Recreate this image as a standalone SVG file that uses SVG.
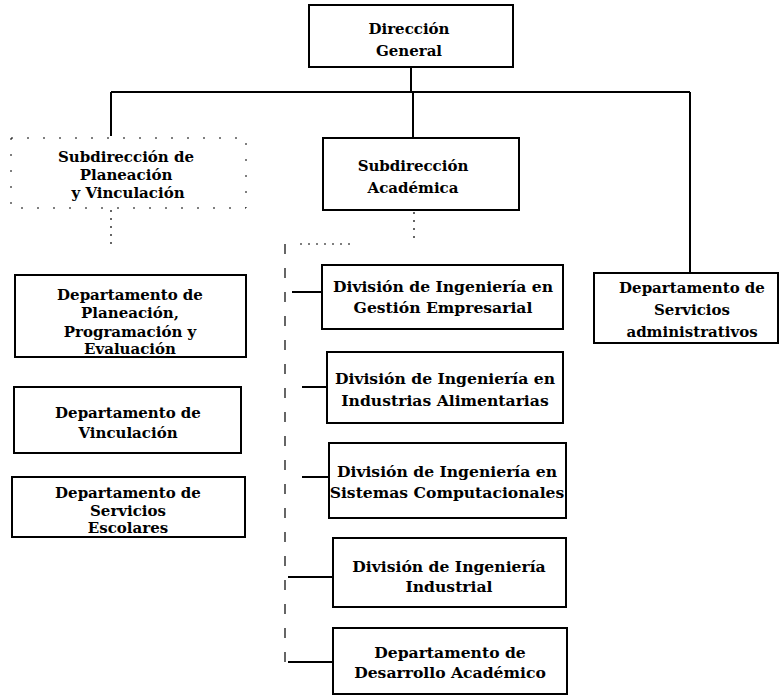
<svg xmlns="http://www.w3.org/2000/svg" width="780" height="697" viewBox="0 0 780 697">
<style>
  .box{fill:#fff;stroke:#000;stroke-width:2}
  .faint{fill:none;stroke:#000;stroke-width:1;stroke-dasharray:2 14}
  .ln{fill:none;stroke:#000;stroke-width:2}
  .dl{fill:none;stroke:#000;stroke-width:1.2;stroke-dasharray:2 6}
  .dv{fill:none;stroke:#000;stroke-width:1.2;stroke-dasharray:10 14}
  text{font-family:"DejaVu Serif","Liberation Serif",serif;font-weight:bold;font-size:15px;text-anchor:middle;fill:#000}
  .w{font-size:15.6px}
</style>
<rect width="780" height="697" fill="#fff"/>
<g id="connectors">
  <line class="ln" x1="411" y1="67" x2="411" y2="92"/>
  <line class="ln" x1="111" y1="92" x2="690" y2="92"/>
  <line class="ln" x1="111" y1="92" x2="111" y2="136"/>
  <line class="ln" x1="413" y1="92" x2="413" y2="138"/>
  <line class="ln" x1="690" y1="92" x2="690" y2="273"/>
  <line class="dl" x1="111" y1="210" x2="111" y2="246"/>
  <line class="dl" x1="414" y1="212" x2="414" y2="244"/>
  <line class="dl" x1="300" y1="244" x2="350" y2="244"/>
  <line class="dv" x1="285" y1="244" x2="285" y2="668"/>
  <line class="ln" x1="292" y1="292" x2="322" y2="292"/>
  <line class="ln" x1="302" y1="387" x2="327" y2="387"/>
  <line class="ln" x1="302" y1="477" x2="329" y2="477"/>
  <line class="ln" x1="288" y1="577" x2="333" y2="577"/>
  <line class="ln" x1="288" y1="662" x2="333" y2="662"/>
</g>
<g id="direccion-general">
  <rect class="box" x="309" y="5" width="204" height="62"/>
  <text x="409" y="34">Dirección</text>
  <text x="409" y="56">General</text>
</g>
<g id="subdireccion-planeacion">
  <rect class="faint" x="11" y="138" width="235" height="70"/>
  <text x="126" y="162">Subdirección de</text>
  <text x="126" y="180">Planeación</text>
  <text x="128" y="198">y Vinculación</text>
</g>
<g id="subdireccion-academica">
  <rect class="box" x="323" y="138" width="196" height="72"/>
  <text x="413" y="171">Subdirección</text>
  <text x="413" y="193">Académica</text>
</g>
<g id="servicios-administrativos">
  <rect class="box" x="594" y="273" width="184" height="70"/>
  <text x="692" y="293">Departamento de</text>
  <text x="692" y="315">Servicios</text>
  <text x="692" y="337">administrativos</text>
</g>
<g id="planeacion-programacion">
  <rect class="box" x="15" y="275" width="231" height="82"/>
  <text x="130" y="300">Departamento de</text>
  <text x="130" y="318">Planeación,</text>
  <text x="130" y="337">Programación y</text>
  <text x="130" y="354">Evaluación</text>
</g>
<g id="vinculacion">
  <rect class="box" x="14" y="387" width="227" height="66"/>
  <text x="128" y="418">Departamento de</text>
  <text x="128" y="438">Vinculación</text>
</g>
<g id="servicios-escolares">
  <rect class="box" x="12" y="477" width="233" height="60"/>
  <text x="128" y="498">Departamento de</text>
  <text x="128" y="516">Servicios</text>
  <text x="128" y="533">Escolares</text>
</g>
<g id="gestion-empresarial">
  <rect class="box" x="322" y="265" width="241" height="64"/>
  <text class="w" x="443" y="292">División de Ingeniería en</text>
  <text class="w" x="443" y="313">Gestión Empresarial</text>
</g>
<g id="industrias-alimentarias">
  <rect class="box" x="327" y="352" width="236" height="71"/>
  <text class="w" x="445" y="384">División de Ingeniería en</text>
  <text class="w" x="445" y="406">Industrias Alimentarias</text>
</g>
<g id="sistemas-computacionales">
  <rect class="box" x="329" y="443" width="237" height="75"/>
  <text class="w" x="447" y="477">División de Ingeniería en</text>
  <text class="w" x="447" y="498">Sistemas Computacionales</text>
</g>
<g id="ingenieria-industrial">
  <rect class="box" x="333" y="538" width="233" height="69"/>
  <text class="w" x="449" y="572">División de Ingeniería</text>
  <text class="w" x="449" y="592">Industrial</text>
</g>
<g id="desarrollo-academico">
  <rect class="box" x="333" y="628" width="234" height="66"/>
  <text class="w" x="450" y="658">Departamento de</text>
  <text class="w" x="450" y="678">Desarrollo Académico</text>
</g>
</svg>
